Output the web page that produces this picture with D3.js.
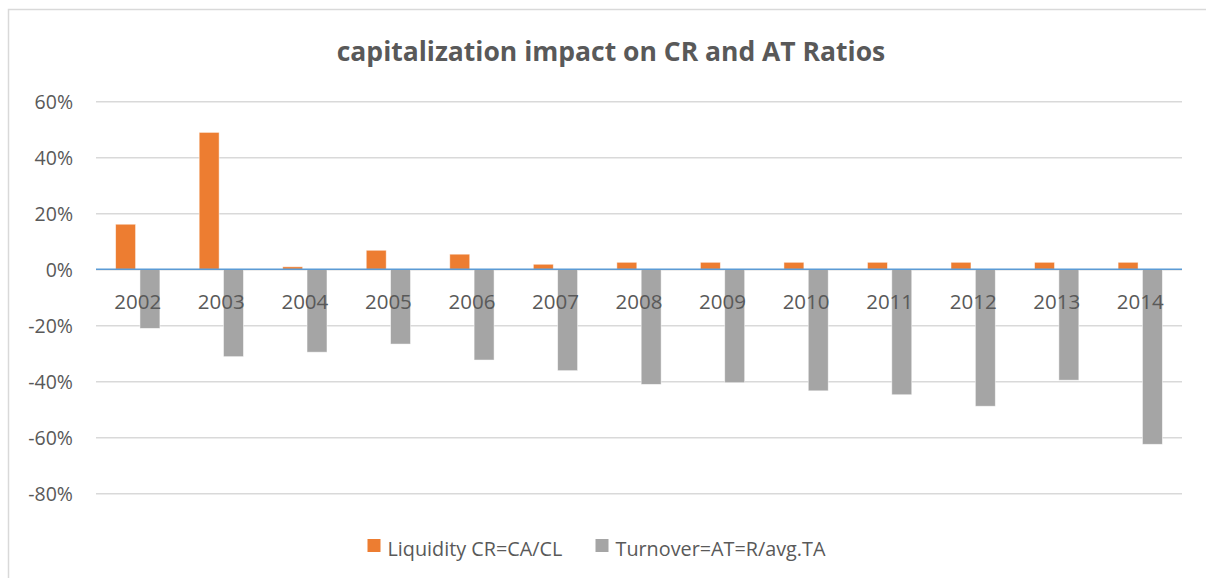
<!DOCTYPE html>
<html>
<head>
  <meta charset="utf-8">
  <script src="https://d3js.org/d3.v7.min.js"></script>
  <style>
    body { margin: 0; background: #fff; }
    svg { font-family: "Open Sans", "Liberation Sans", sans-serif; }
  </style>
</head>
<body>
<div id="chart"></div>
<script>
    // chart data
    var years = ["2002","2003","2004","2005","2006","2007","2008","2009","2010","2011","2012","2013","2014"];
    var liquidity = [0.161, 0.489, 0.009, 0.068, 0.054, 0.018, 0.025, 0.025, 0.025, 0.025, 0.025, 0.025, 0.025];
    var turnover = [-0.211, -0.312, -0.296, -0.267, -0.324, -0.362, -0.411, -0.405, -0.434, -0.448, -0.489, -0.396, -0.625];
    var yTicks = [0.6, 0.4, 0.2, 0, -0.2, -0.4, -0.6, -0.8];
    var seriesNames = ["Liquidity CR=CA/CL", "Turnover=AT=R/avg.TA"];
    var colors = ["#ED7D31", "#A5A5A5"];

    var W = 1206, H = 578;
    var plot = {left: 96, right: 1182, top: 101.3, bottom: 493.3};

    var svg = d3.select("#chart")
        .append("svg")
        .attr("width", W)
        .attr("height", H);

    // chart frame
    svg.append("path")
        .attr("d", "M8.5," + H + "V9.5H" + W)
        .attr("fill", "none")
        .attr("stroke", "#D9D9D9")
        .attr("stroke-width", 1.5);

    // title
    svg.append("text")
        .attr("x", 611)
        .attr("y", 61)
        .attr("text-anchor", "middle")
        .attr("font-size", "26.5px")
        .attr("font-weight", "bold")
        .attr("fill", "#595959")
        .text("capitalization impact on CR and AT Ratios");

    var x = d3.scaleBand()
        .domain(years)
        .range([plot.left, plot.right])
        .paddingInner(0.47)
        .paddingOuter(0.235);

    var x1 = d3.scaleBand()
        .domain([0, 1])
        .range([0, x.bandwidth()])
        .paddingInner(0.18);

    var y = d3.scaleLinear()
        .domain([-0.8, 0.6])
        .range([plot.bottom, plot.top]);

    // gridlines + y labels
    var pct = d3.format(".0%");
    var yAxis = d3.axisLeft(y)
        .tickValues(yTicks)
        .tickSize(-(plot.right - plot.left))
        .tickPadding(23)
        .tickFormat(function (d) { return pct(d).replace("\u2212", "-"); });

    var gy = svg.append("g")
        .attr("transform", "translate(" + plot.left + ",0)")
        .call(yAxis);
    gy.select(".domain").remove();
    gy.selectAll(".tick line")
        .attr("stroke", "#D9D9D9")
        .attr("stroke-width", 1.5);
    gy.selectAll(".tick text")
        .attr("fill", "#595959")
        .attr("font-size", "19.5px")
        .attr("font-family", "\"Open Sans\", sans-serif")
        .attr("dy", "0.36em");

    // bars
    var rows = years.map(function (yr, i) {
        return {year: yr, values: [liquidity[i], turnover[i]]};
    });

    var groups = svg.selectAll(".grp")
        .data(rows)
        .enter()
        .append("g")
        .attr("class", "grp")
        .attr("transform", function (d) { return "translate(" + x(d.year) + ",0)"; });

    groups.selectAll("rect")
        .data(function (d) { return d.values.map(function (v, k) { return {k: k, v: v}; }); })
        .enter()
        .append("rect")
        .attr("x", function (d) { return x1(d.k); })
        .attr("width", x1.bandwidth())
        .attr("y", function (d) { return y(Math.max(0, d.v)); })
        .attr("height", function (d) { return Math.abs(y(d.v) - y(0)); })
        .attr("fill", function (d) { return colors[d.k]; })
        .attr("stroke", "#fff")
        .attr("stroke-opacity", 0.6)
        .attr("stroke-width", 0.8);

    // zero axis line
    svg.append("line")
        .attr("x1", plot.left)
        .attr("x2", plot.right)
        .attr("y1", y(0))
        .attr("y2", y(0))
        .attr("stroke", "#5B9BD5")
        .attr("stroke-width", 1.5);

    // category labels just below zero line
    var xAxis = d3.axisBottom(x).tickSize(0).tickPadding(0);
    var gx = svg.append("g")
        .attr("transform", "translate(0," + y(0) + ")")
        .call(xAxis);
    gx.select(".domain").remove();
    gx.selectAll(".tick text")
        .attr("fill", "#595959")
        .attr("font-size", "20.5px")
        .attr("font-family", "\"Open Sans\", sans-serif")
        .attr("dy", "40px");

    // legend
    var legendX = [367.5, 595.5];
    var legend = svg.selectAll(".leg")
        .data(seriesNames)
        .enter()
        .append("g")
        .attr("class", "leg")
        .attr("transform", function (d, i) { return "translate(" + legendX[i] + ",539)"; });

    legend.append("rect")
        .attr("width", 13)
        .attr("height", 13)
        .attr("fill", function (d, i) { return colors[i]; });

    legend.append("text")
        .attr("x", 20)
        .attr("y", 17)
        .attr("fill", "#595959")
        .attr("font-size", "19.8px")
        .text(function (d) { return d; });
</script>
</body>
</html>
